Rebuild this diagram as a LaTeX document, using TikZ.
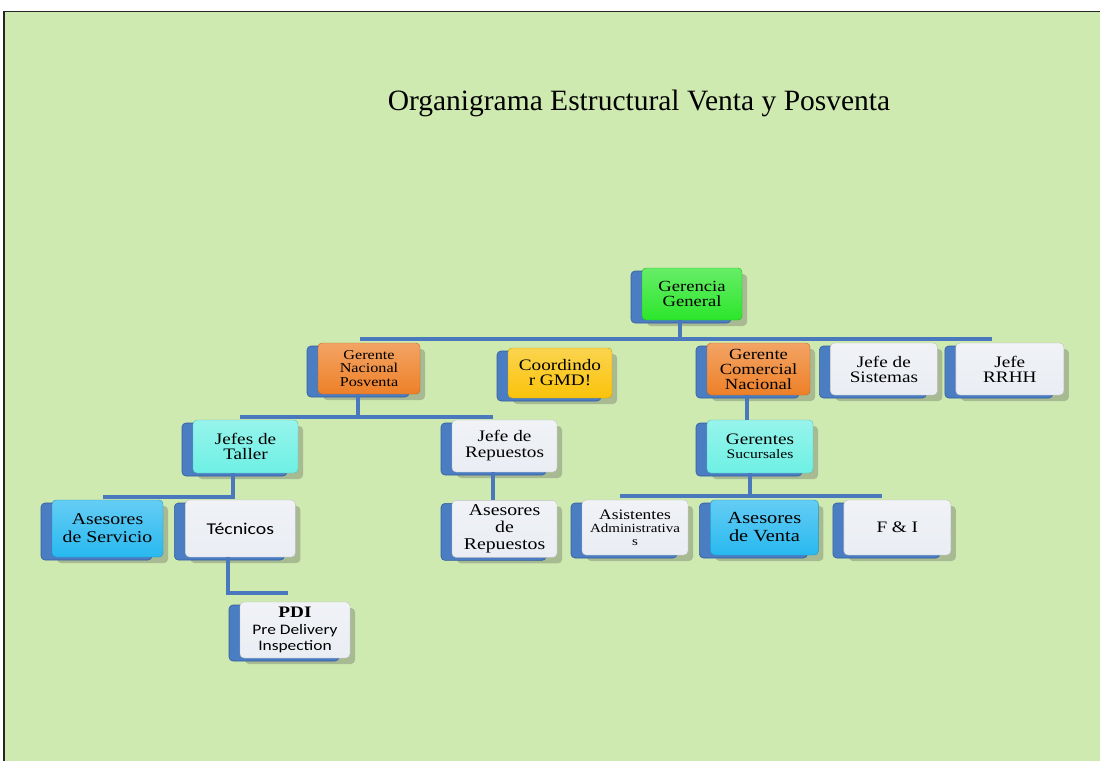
\documentclass[tikz,border=0pt]{standalone}
\usepackage{fontspec}
\setmainfont{Liberation Serif}
\newfontfamily\wideserif[FakeStretch=1.2]{Liberation Serif}
\newfontfamily\widesans[FakeStretch=1.2]{Carlito}
\usetikzlibrary{positioning,shadows}

\definecolor{bggreen}{HTML}{CFEAB1}
\definecolor{ggreen}{HTML}{2CE62C}
\definecolor{gorange}{HTML}{EE8028}
\definecolor{ggold}{HTML}{FAC30A}
\definecolor{gcyan}{HTML}{6EF0E4}
\definecolor{gsky}{HTML}{28B9F0}
\definecolor{gwhite}{HTML}{EAEDF3}
\definecolor{plateblue}{HTML}{4B7DC3}
\definecolor{platedark}{HTML}{345E9E}
\definecolor{linkblue}{HTML}{4A78BC}

\begin{document}
\begin{tikzpicture}[
    x=1pt, y=-1pt,
    orgbox/.style={rounded corners=4pt, align=center, inner sep=1pt,
        top color=#1!72!white, bottom color=#1, draw=#1!80!black, line width=0.4pt,
        drop shadow={opacity=0.3, fill=black!70, shadow xshift=5pt, shadow yshift=-6pt},
        general shadow={fill=plateblue, draw=platedark, line width=0.6pt,
            shadow xshift=-11pt, shadow yshift=-3pt}},
    link/.style={draw=linkblue, line width=4pt}
]
    % page and frame
    \useasboundingbox (0,0) rectangle (1100,761);
    \fill[white] (0,0) rectangle (1100,761);
    \fill[bggreen] (4,11.5) rectangle (1100,761);
    \draw[line width=1.3pt, black!85] (4,761) -- (4,11.5) -- (1100,11.5);

    \node[anchor=base, font=\fontsize{29.5}{31}\selectfont] (title) at (639,110)
        {Organigrama Estructural Venta y Posventa};

    % first levels
    \node[orgbox=ggreen, minimum width=100pt, minimum height=52pt,
        font=\wideserif\fontsize{15.5}{14.5}\selectfont] (gg) at (692,294) {Gerencia\\General};
    \node[orgbox=gorange, minimum width=102pt, minimum height=51pt,
        font=\wideserif\fontsize{13.5}{13.5}\selectfont] (gnp) at (369,368.5) {Gerente\\Nacional\\Posventa};
    \node[orgbox=ggold, minimum width=104pt, minimum height=50pt,
        font=\wideserif\fontsize{16}{15}\selectfont] (coord) at (560,373) {Coordindo\\r GMD!};
    \node[orgbox=gorange, minimum width=103pt, minimum height=52pt,
        font=\wideserif\fontsize{15.5}{15}\selectfont] (gcn) at (758.5,369) {Gerente\\Comercial\\Nacional};
    \node[orgbox=gwhite, minimum width=107pt, minimum height=52pt,
        font=\wideserif\fontsize{16}{15}\selectfont, right=20pt of gcn] (jsis) {Jefe de\\Sistemas};
    \node[orgbox=gwhite, minimum width=108pt, minimum height=52pt,
        font=\wideserif\fontsize{16}{15}\selectfont, right=18pt of jsis] (jrrhh) {Jefe\\RRHH};

    % second level
    \node[orgbox=gcyan, minimum width=105pt, minimum height=53pt,
        font=\wideserif\fontsize{16}{15}\selectfont] (jtaller) at (245.5,446.5) {Jefes de\\Taller};
    \node[orgbox=gwhite, minimum width=105pt, minimum height=52pt,
        font=\wideserif\fontsize{16}{16}\selectfont] (jrep) at (504.5,446) {Jefe de\\Repuestos};
    \node[orgbox=gcyan, minimum width=106pt, minimum height=53pt,
        font=\wideserif\fontsize{13}{13.5}\selectfont] (gsuc) at (760,446.5)
        {{\fontsize{16}{16}\selectfont Gerentes}\\Sucursales};

    % third level
    \node[orgbox=gsky, minimum width=111pt, minimum height=57pt,
        font=\wideserif\fontsize{16.5}{18}\selectfont] (aserv) at (107.5,528.5) {Asesores\\de Servicio};
    \node[orgbox=gwhite, minimum width=110pt, minimum height=57pt,
        font=\widesans\fontsize{16.5}{18}\selectfont, right=22pt of aserv] (tecn) {Técnicos};
    \node[orgbox=gwhite, minimum width=105pt, minimum height=57pt,
        font=\wideserif\fontsize{16.5}{17}\selectfont, below=28pt of jrep] (aserep) {Asesores\\de\\Repuestos};
    \node[orgbox=gwhite, minimum width=106pt, minimum height=55pt,
        font=\wideserif\fontsize{12.5}{13}\selectfont] (asist) at (635,527.5)
        {{\fontsize{14.5}{14}\selectfont Asistentes}\\Administrativa\\s};
    \node[orgbox=gsky, minimum width=108pt, minimum height=55pt,
        font=\wideserif\fontsize{17}{18}\selectfont, right=22pt of asist] (asvent) {Asesores\\de Venta};
    \node[orgbox=gwhite, minimum width=107pt, minimum height=55pt,
        font=\wideserif\fontsize{16}{16}\selectfont, right=25pt of asvent] (fi) {F \& I};
    \node[orgbox=gwhite, minimum width=110pt, minimum height=56pt,
        font=\widesans\fontsize{14.5}{16.5}\selectfont] (pdi) at (295,630)
        {{\wideserif\bfseries\fontsize{16}{16}\selectfont PDI}\\Pre Delivery\\Inspection};

    % bus points
    \coordinate (busA) at (680,339);
    \coordinate (busAL) at (360,339);
    \coordinate (busAR) at (992,339);
    \coordinate (busB) at (358,417);
    \coordinate (busBL) at (240,417);
    \coordinate (busBR) at (493,417);
    \coordinate (busC) at (747,420);
    \coordinate (busD) at (233,497);
    \coordinate (busDL) at (103,497);
    \coordinate (busDR) at (235,497);
    \coordinate (busE) at (750,496);
    \coordinate (busEL) at (620,496);
    \coordinate (busER) at (882,496);
    \coordinate (bendF) at (228,593);
    \coordinate (pdiT) at (288,593);

    % connectors
    \draw[link] (gg.south -| busA) -- (busA);
    \draw[link] (busAL) -- (busAR);
    \draw[link] (gnp.south -| busB) -- (busB);
    \draw[link] (busBL) -- (busBR);
    \draw[link] (gcn.south -| busC) -- (gsuc.north -| busC);
    \draw[link] (jtaller.south -| busD) -- (busD);
    \draw[link] (busDL) -- (busDR);
    \draw[link] (jrep.south -| busBR) -- (aserep.north -| busBR);
    \draw[link] (gsuc.south -| busE) -- (busE);
    \draw[link] (busEL) -- (busER);
    \draw[link] (tecn.south -| bendF) -- (bendF) -- (pdiT);
\end{tikzpicture}
\end{document}
